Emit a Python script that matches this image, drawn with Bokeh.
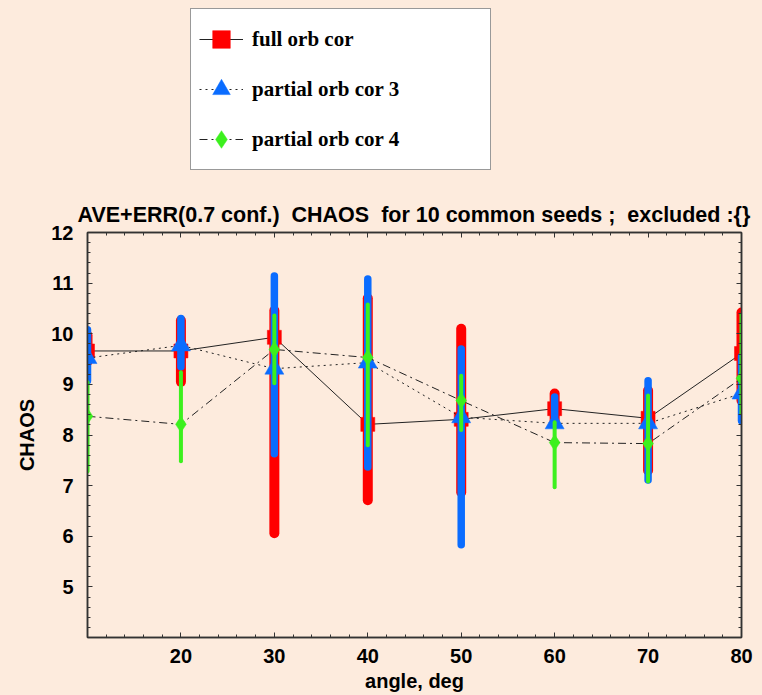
from bokeh.plotting import figure
from bokeh.layouts import column
from bokeh.models import Range1d, LinearAxis, FixedTicker, Legend, LegendItem
from bokeh.embed import file_html
from bokeh.resources import INLINE

# ---------------- data ----------------
angles = [10, 20, 30, 40, 50, 60, 70, 80]

full_ave = [9.66, 9.66, 9.93, 8.21, 8.31, 8.52, 8.33, 9.61]
full_lo = [9.45, 9.05, 6.06, 6.71, 6.87, 8.25, 7.30, 8.68]
full_hi = [9.97, 10.26, 10.46, 10.70, 10.10, 8.82, 8.88, 10.42]

p3_ave = [9.52, 9.77, 9.31, 9.43, 8.35, 8.23, 8.23, 8.82]
p3_lo = [9.07, 9.35, 7.63, 7.37, 5.83, 8.20, 7.11, 8.28]
p3_hi = [10.08, 10.30, 11.14, 11.08, 9.70, 8.75, 9.07, 9.55]

p4_ave = [8.37, 8.21, 9.69, 9.53, 8.68, 7.85, 7.83, 9.12]
p4_lo = [7.28, 7.48, 9.02, 7.80, 8.10, 6.97, 7.08, 8.43]
p4_hi = [9.04, 9.24, 10.36, 10.58, 9.17, 8.25, 8.78, 10.38]

labels = ["full orb cor", "partial orb cor 3", "partial orb cor 4"]
title_text = "AVE+ERR(0.7 conf.)\u00a0 CHAOS\u00a0 for 10 common seeds ;\u00a0 excluded :{}"
x_label = "angle, deg"
y_label = "CHAOS"

x_major = [20, 30, 40, 50, 60, 70, 80]
x_minor = [12, 14, 16, 18, 22, 24, 26, 28, 32, 34, 36, 38, 42, 44, 46, 48,
           52, 54, 56, 58, 62, 64, 66, 68, 72, 74, 76, 78]
y_major = [5, 6, 7, 8, 9, 10, 11, 12]
y_minor = [4.2, 4.4, 4.6, 4.8, 5.2, 5.4, 5.6, 5.8, 6.2, 6.4, 6.6, 6.8,
           7.2, 7.4, 7.6, 7.8, 8.2, 8.4, 8.6, 8.8, 9.2, 9.4, 9.6, 9.8,
           10.2, 10.4, 10.6, 10.8, 11.2, 11.4, 11.6, 11.8]

# ---------------- styles ----------------
BG = "#FDEBDD"
RED = "#FF0000"
BLUE = "#0A6CFF"
GREEN = "#3CF01E"
LINE = "#222222"
AX = "#333333"
SANS = "Liberation Sans"
SERIF = "Liberation Serif"

series = [
    (full_ave, full_lo, full_hi, RED, 10, "square", 14, None),
    (p3_ave, p3_lo, p3_hi, BLUE, 7.5, "triangle", 19, "2 4"),
    (p4_ave, p4_lo, p4_hi, GREEN, 4, "diamond", 16, "8 4 2 4"),
]

# ---------------- main plot ----------------
p = figure(width=762, height=505, output_backend="svg", toolbar_location=None,
           x_range=Range1d(10, 80), y_range=Range1d(4, 12),
           min_border_left=87, min_border_right=21,
           min_border_top=42, min_border_bottom=58,
           background_fill_color=BG, border_fill_color=BG)
p.grid.visible = False
p.outline_line_color = AX
p.outline_line_width = 1.5

p.title.text = title_text
p.title.text_font = SANS
p.title.text_font_size = "21.5px"
p.title.text_font_style = "bold"
p.title.text_color = "black"
p.title.align = "left"
p.title.offset = -10
p.title.standoff = 11

xt = FixedTicker(ticks=x_major, minor_ticks=x_minor)
yt = FixedTicker(ticks=y_major, minor_ticks=y_minor)


def style_axis(ax, show_labels):
    ax.axis_line_color = AX
    ax.axis_line_width = 1.5
    ax.major_tick_line_color = AX
    ax.minor_tick_line_color = AX
    ax.major_tick_in = 5
    ax.major_tick_out = 0
    ax.minor_tick_in = 3
    ax.minor_tick_out = 0
    if show_labels:
        ax.major_label_text_font = SANS
        ax.major_label_text_font_size = "20px"
        ax.major_label_text_font_style = "bold"
        ax.major_label_text_color = "black"
        ax.axis_label_text_font = SANS
        ax.axis_label_text_font_size = "20px"
        ax.axis_label_text_font_style = "bold"
        ax.axis_label_text_color = "black"
    else:
        ax.major_label_text_font_size = "0px"
        ax.major_label_text_color = None
        ax.major_label_standoff = 0


xa = p.xaxis[0]
xa.ticker = xt
style_axis(xa, True)
xa.axis_label = x_label
xa.major_label_standoff = 11
xa.axis_label_standoff = 4

ya = p.yaxis[0]
ya.ticker = yt
style_axis(ya, True)
ya.axis_label = y_label
ya.major_label_standoff = 14
ya.axis_label_standoff = 10

top_ax = LinearAxis(ticker=xt)
style_axis(top_ax, False)
p.add_layout(top_ax, "above")
right_ax = LinearAxis(ticker=yt)
style_axis(right_ax, False)
p.add_layout(right_ax, "right")

for (ave, lo, hi, col, bw, mk, ms, dash) in series:
    if dash is None:
        p.line(angles, ave, line_color=LINE, line_width=1)
    else:
        p.line(angles, ave, line_color=LINE, line_width=1, line_dash=dash)
    p.segment(x0=angles, y0=lo, x1=angles, y1=hi, line_color=col,
              line_width=bw, line_cap="round")
    p.scatter(angles, ave, marker=mk, size=ms, fill_color=col,
              line_color=col, line_width=0.5)

# ---------------- legend panel (same series, ranges kept off-view) ----------------
pl = figure(width=762, height=190, output_backend="svg", toolbar_location=None,
            x_range=Range1d(0, 1), y_range=Range1d(0, 1),
            min_border_left=0, min_border_right=0,
            min_border_top=0, min_border_bottom=0,
            background_fill_color=BG, border_fill_color=BG)
pl.axis.visible = False
pl.grid.visible = False
pl.outline_line_color = None

items = []
for (ave, lo, hi, col, bw, mk, ms, dash), lab in zip(series, labels):
    if dash is None:
        lr = pl.line(angles, ave, line_color=LINE, line_width=1)
    else:
        lr = pl.line(angles, ave, line_color=LINE, line_width=1, line_dash=dash)
    sr = pl.scatter(angles, ave, marker=mk, size=ms, fill_color=col,
                    line_color=col, line_width=0.5)
    items.append(LegendItem(label=lab, renderers=[lr, sr]))

legend = Legend(items=items, location=(103, 20),
                label_text_font=SERIF, label_text_font_size="21px",
                label_text_font_style="bold", label_text_color="black",
                glyph_width=44, glyph_height=44, label_height=44,
                label_width=230, label_standoff=9, padding=8, spacing=6,
                margin=0, border_line_color=AX, border_line_width=1.5,
                background_fill_color="white", background_fill_alpha=1.0)
pl.add_layout(legend)

layout = column(pl, p, spacing=0)

html = file_html(layout, INLINE)
html = html.replace("</head>",
                    "<style>html,body{margin:0;padding:0;background:%s;}</style></head>" % BG, 1)
open("out.html", "w").write(html)
